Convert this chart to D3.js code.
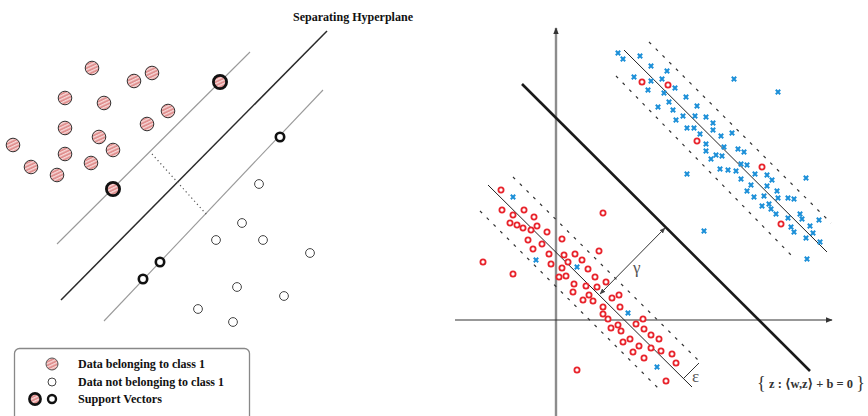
<!DOCTYPE html>
<html>
<head>
<meta charset="utf-8">
<script src="https://cdn.jsdelivr.net/npm/d3@7"></script>
<style>
html,body{margin:0;padding:0;background:#fff;}
svg{display:block;}
</style>
</head>
<body>
<svg id="chart" width="868" height="416"></svg>
<script>
// ---------- LEFT PANEL DATA (x right, y up) ----------
const classOne = [[92,272],[134,259],[152,267],[65,242],[104,237],[168,229],[147,216],[65,212],[99,203],[13,195],[113,190],[65,186],[31,173],[91,177],[57,165]];
const classOneSV = [[220,258],[113,151]];
const classTwo = [[259,156],[242,117],[216,100],[263,100],[310,87],[237,53],[284,44],[198,31],[233,18]];
const classTwoSV = [[280,203],[160,78],[143,61]];
const marginUpper = [[57,96],[250,288]];
const hyperplane = [[61,40],[327,309]];
const marginLower = [[104,19],[323,250]];
const marginGap = [[152,186],[207,125]];
const titleLeft = "Separating Hyperplane";
const legendLabels = ["Data belonging to class 1","Data not belonging to class 1","Support Vectors"];

// ---------- RIGHT PANEL DATA (axis origin) ----------
const redPts = [[-55,130],[-54,110],[-43,105],[-32,110],[-22,103],[-46,97],[-39,95],[-33,92],[-25,90],[-19,94],[-9,88],[-28,80],[-14,76],[-23,71],[6,81],[47,107],[-73,58],[-43,46],[-7,66],[-5,56],[8,65],[19,66],[12,58],[26,60],[43,69],[6,52],[32,51],[3,43],[10,44],[39,43],[18,36],[30,34],[41,33],[50,38],[17,28],[33,25],[27,20],[37,19],[56,22],[63,25],[47,13],[64,13],[47,6],[52,1],[87,1],[80,-4],[62,-5],[55,-8],[65,-11],[88,-9],[95,-15],[74,-19],[103,-19],[67,-22],[83,-26],[95,-28],[77,-32],[105,-31],[116,-34],[88,-38],[120,-43],[110,-61],[21,-50],
  [86,238],[112,235],[141,179],[206,153],[225,96]];
const bluePts = [[-43,123],[-20,60],[21,53],[72,7],[101,-47],[148,89],[131,146],
  [62,267],[67,261],[84,264],[95,254],[111,249],[78,243],[95,239],[106,241],[92,230],[119,232],[108,227],[130,223],[113,218],[102,213],[141,214],[117,210],[127,204],[139,204],[150,203],[120,200],[157,197],[131,192],[138,192],[157,190],[144,186],[165,184],[176,187],[150,176],[168,173],[150,169],[160,165],[166,164],[155,161],[182,171],[188,168],[185,156],[191,155],[164,151],[172,150],[180,149],[199,146],[211,145],[185,141],[216,140],[195,135],[211,134],[191,129],[221,129],[198,123],[208,124],[222,122],[232,122],[238,121],[206,114],[213,116],[215,111],[220,106],[244,106],[246,101],[232,102],[235,93],[238,88],[254,94],[263,100],[257,87],[250,82],[264,78],[251,61],[178,241],[222,228],[250,142]];
const separator = [[-34,236],[254,-51]];
const blueCenter = [[68,270],[271,68]];
const blueDashes = [[[93,278],[275,97]],[[60,244],[237,63]]];
const redCenter = [[-68,135],[136,-67]];
const redDashes = [[[-43,143],[144,-42]],[[-76,109],[102,-68]]];
const epsTick = [[127,-59],[143,-43]];
const gammaArrow = [[44,26],[109,92]];
const xAxisSeg = [[-101,0],[276,0]];
const yAxisSeg = [[0,-96],[0,292]];
const eqLabel = ["{","z : \u27E8w,z\u27E9 + b = 0","}"];

// ---------- SCALES ----------
const xL = d3.scaleLinear().domain([0,430]).range([0,430]);
const yL = d3.scaleLinear().domain([0,340]).range([340,0]);
const xR = d3.scaleLinear().domain([-101,312]).range([455,868]);
const yR = d3.scaleLinear().domain([-96,320]).range([416,0]);

const svg = d3.select("#chart");
const defs = svg.append("defs");
const pat = defs.append("pattern").attr("id","hatch").attr("patternUnits","userSpaceOnUse")
  .attr("width",3.2).attr("height",3.2).attr("patternTransform","rotate(-25)");
pat.append("rect").attr("width",3.2).attr("height",3.2).attr("fill","#e0908f");
pat.append("rect").attr("width",3.2).attr("height",1.3).attr("fill","#f7d8d8");

[["arrDark",7,"#333"],["arrGray",6,"#444"]].forEach(([id,sz,col])=>{
  defs.append("marker").attr("id",id).attr("viewBox","0 0 10 10").attr("refX",9).attr("refY",5)
    .attr("markerWidth",sz).attr("markerHeight",sz).attr("orient","auto-start-reverse")
    .attr("markerUnits","userSpaceOnUse")
    .append("path").attr("d","M0,1 L10,5 L0,9 Z").attr("fill",col);
});

function seg(g, s, xs, ys){
  return g.append("line").attr("x1",xs(s[0][0])).attr("y1",ys(s[0][1])).attr("x2",xs(s[1][0])).attr("y2",ys(s[1][1]));
}

// ---------- LEFT PANEL ----------
const L = svg.append("g");
seg(L, marginUpper, xL, yL).attr("stroke","#9a9a9a").attr("stroke-width",1.1);
seg(L, hyperplane, xL, yL).attr("stroke","#2a2a2a").attr("stroke-width",1.5);
seg(L, marginLower, xL, yL).attr("stroke","#9a9a9a").attr("stroke-width",1.1);
seg(L, marginGap, xL, yL).attr("stroke","#555").attr("stroke-width",1.2).attr("stroke-dasharray","1.2 3");

L.selectAll(".c1").data(classOne).join("circle").attr("cx",d=>xL(d[0])).attr("cy",d=>yL(d[1])).attr("r",6.8)
  .attr("fill","url(#hatch)").attr("stroke","#333").attr("stroke-width",1);
L.selectAll(".c1sv").data(classOneSV).join("circle").attr("cx",d=>xL(d[0])).attr("cy",d=>yL(d[1])).attr("r",6.6)
  .attr("fill","url(#hatch)").attr("stroke","#111").attr("stroke-width",2.8);
L.selectAll(".c2").data(classTwo).join("circle").attr("cx",d=>xL(d[0])).attr("cy",d=>yL(d[1])).attr("r",4.4)
  .attr("fill","#fff").attr("stroke","#444").attr("stroke-width",1);
L.selectAll(".c2sv").data(classTwoSV).join("circle").attr("cx",d=>xL(d[0])).attr("cy",d=>yL(d[1])).attr("r",4.2)
  .attr("fill","#fff").attr("stroke","#111").attr("stroke-width",2.6);

L.append("text").attr("x",293).attr("y",21).text(titleLeft)
  .attr("font-family","Liberation Serif").attr("font-weight","bold").attr("font-size",11.6).attr("fill","#111")
  .attr("textLength",120).attr("lengthAdjust","spacingAndGlyphs");

// legend
const lg = L.append("g");
lg.append("rect").attr("x",14.5).attr("y",348.5).attr("width",235).attr("height",80).attr("rx",5)
  .attr("fill","#fff").attr("stroke","#888").attr("stroke-width",1.3);
lg.append("circle").attr("cx",52).attr("cy",364).attr("r",6).attr("fill","url(#hatch)").attr("stroke","#555").attr("stroke-width",1);
lg.append("circle").attr("cx",52).attr("cy",382).attr("r",4).attr("fill","#fff").attr("stroke","#444").attr("stroke-width",1);
lg.append("circle").attr("cx",35).attr("cy",399).attr("r",5.6).attr("fill","url(#hatch)").attr("stroke","#111").attr("stroke-width",2.6);
lg.append("circle").attr("cx",52).attr("cy",399).attr("r",4).attr("fill","#fff").attr("stroke","#111").attr("stroke-width",2.4);
const lens=[127,146,84];
legendLabels.forEach((t,i)=>{
  lg.append("text").attr("x",78).attr("y",368+i*17.5).text(t)
    .attr("font-family","Liberation Serif").attr("font-weight","bold").attr("font-size",11.5).attr("fill","#111")
    .attr("textLength",lens[i]).attr("lengthAdjust","spacingAndGlyphs");
});

// ---------- RIGHT PANEL ----------
const R = svg.append("g");
seg(R, yAxisSeg, xR, yR).attr("stroke","#8c8c8c").attr("stroke-width",2.4).attr("marker-end","url(#arrDark)");
seg(R, xAxisSeg, xR, yR).attr("stroke","#333").attr("stroke-width",1.2).attr("marker-end","url(#arrDark)");

seg(R, separator, xR, yR).attr("stroke","#1a1a1a").attr("stroke-width",2.6);
seg(R, blueCenter, xR, yR).attr("stroke","#222").attr("stroke-width",1);
seg(R, redCenter, xR, yR).attr("stroke","#222").attr("stroke-width",1);
blueDashes.concat(redDashes).forEach(s=>{
  seg(R, s, xR, yR).attr("stroke","#333").attr("stroke-width",1.2).attr("stroke-dasharray","3 6.5");
});
seg(R, epsTick, xR, yR).attr("stroke","#333").attr("stroke-width",1);
seg(R, gammaArrow, xR, yR).attr("stroke","#333").attr("stroke-width",1)
  .attr("marker-start","url(#arrGray)").attr("marker-end","url(#arrGray)");

R.selectAll(".red").data(redPts).join("circle").attr("cx",d=>xR(d[0])).attr("cy",d=>yR(d[1])).attr("r",2.6)
  .attr("fill","#fff").attr("stroke","#e8232b").attr("stroke-width",1.8);
R.selectAll(".blue").data(bluePts).join("path")
  .attr("d",d=>{const x=xR(d[0]),y=yR(d[1]),h=2.2;return `M${x-h},${y-h}L${x+h},${y+h}M${x-h},${y+h}L${x+h},${y-h}`;})
  .attr("stroke","#1b8fd8").attr("stroke-width",2).attr("fill","none");

R.append("text").attr("x",633).attr("y",273).text("\u03B3")
  .attr("font-family","Liberation Serif").attr("font-size",17).attr("fill","#555");
R.append("text").attr("x",692).attr("y",382).text("\u03B5")
  .attr("font-family","Liberation Serif").attr("font-size",17).attr("fill","#555");

const eqFont = "Liberation Serif, DejaVu Serif";
R.append("text").attr("x",757).attr("y",389).text(eqLabel[0])
  .attr("font-family",eqFont).attr("font-size",18).attr("fill","#333");
R.append("text").attr("x",769).attr("y",388).text(eqLabel[1])
  .attr("font-family",eqFont).attr("font-weight","bold").attr("font-size",13).attr("fill","#333")
  .attr("textLength",84).attr("lengthAdjust","spacingAndGlyphs");
R.append("text").attr("x",865).attr("y",389).attr("text-anchor","end").text(eqLabel[2])
  .attr("font-family",eqFont).attr("font-size",18).attr("fill","#333");
</script>
</body>
</html>
